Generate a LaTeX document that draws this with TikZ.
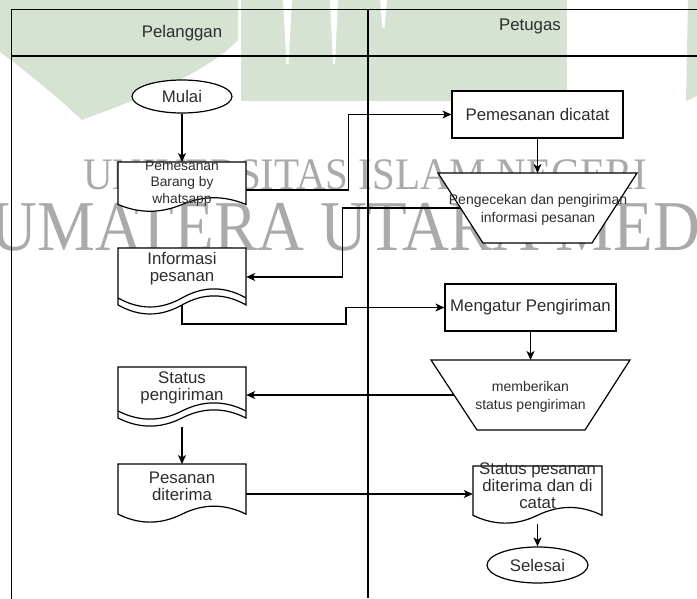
\documentclass[tikz,border=0pt]{standalone}
\usepackage{fontspec}
\setmainfont{Liberation Sans}
\newfontfamily\wmserif{Liberation Serif}
\usetikzlibrary{arrows.meta,calc,shapes.geometric}

\pgfdeclarelayer{watermark}
\pgfdeclarelayer{symbols}
\pgfsetlayers{watermark,symbols,main}

\definecolor{wmgreen}{RGB}{214,227,211}
\definecolor{wmgrey}{RGB}{170,170,170}
\definecolor{ink}{RGB}{45,45,45}

\tikzset{
  outline/.style={draw=black, line width=1.2pt},
  conn/.style={draw=black, line width=1.2pt},
  flow/.style={conn, -{Stealth[length=9pt,width=8pt,inset=2.5pt]}},
  bigtext/.style={text=ink, font=\fontsize{16.8}{17}\selectfont, align=center, inner sep=0pt},
  smalltext/.style={text=ink, font=\fontsize{13.8}{16.7}\selectfont, align=center, inner sep=0pt},
  traptext/.style={text=ink, font=\fontsize{14}{18}\selectfont, align=center, inner sep=0pt},
  term/.style={ellipse, outline, fill=white, inner sep=0pt, bigtext},
  proc/.style={rectangle, outline, fill=white, inner sep=0pt, minimum width=171pt, minimum height=47pt, bigtext},
  docnode/.style={rectangle, inner sep=0pt, minimum width=128pt},
  lane/.style={text=ink, font=\fontsize{16.8}{17}\selectfont, inner sep=0pt},
  wmtext/.style={text=wmgrey, inner sep=0pt, anchor=base west},
}

% document symbol around a text node: node, width, centre-to-top distance, height, band
\newcommand\docsymbol[5]{%
  \begin{scope}[shift={(#1.center)}]
    \pgfmathsetmacro\dhw{#2/2}
    \pgfmathsetmacro\dsx{#2/6}
    \pgfmathsetmacro\dtx{#2/3}
    \pgfmathsetmacro\dtop{-#3}
    \pgfmathsetmacro\dye{-#3+0.85*#4}
    \pgfmathsetmacro\dyu{-#3+0.67*#4}
    \pgfmathsetmacro\dyd{-#3+1.03*#4}
    \draw[outline, fill=white] (-\dhw,\dtop) -- (\dhw,\dtop) -- (\dhw,\dye)
      .. controls (\dtx,\dyu) and (\dsx,\dyu) .. (0,\dye)
      .. controls (-\dsx,\dyd) and (-\dtx,\dyd) .. (-\dhw,\dye) -- cycle;
    \ifdim #5pt>0pt
      \draw[outline, yshift=#5pt] (\dhw,\dye)
        .. controls (\dtx,\dyu) and (\dsx,\dyu) .. (0,\dye)
        .. controls (-\dsx,\dyd) and (-\dtx,\dyd) .. (-\dhw,\dye);
    \fi
    \coordinate (#1-top) at (0,\dtop);
    \coordinate (#1-wave) at (0,\dye);
    \coordinate (#1-base) at (0,{-#3+#4});
  \end{scope}}

% inverted trapezoid around a text node: node, top y, bottom y, top left x, top right x, bottom left x, bottom right x
\newcommand\trapsymbol[7]{%
  \begin{scope}[shift={(#1.center)}]
    \draw[outline, fill=white] (#4,#2) -- (#5,#2) -- (#7,#3) -- (#6,#3) -- cycle;
    \coordinate (#1-top) at (0,#2);
    \coordinate (#1-left) at ({(#4+#6)/2},{(#2+#3)/2});
  \end{scope}}

\begin{document}
\begin{tikzpicture}[x=1pt,y=-1pt]
\useasboundingbox (0,0) rectangle (697,599);

% background watermark
\begin{pgfonlayer}{watermark}
  \begin{scope}
    \clip (0,0) rectangle (697,599);
    \fill[wmgreen] (0,0) -- (238,0) -- (238,40) .. controls (205,75) and (135,100) .. (82,120)
      .. controls (55,95) and (22,68) .. (0,52) -- cycle;
    \fill[wmgreen] (241,0) rectangle (567,101);
    \fill[white] (283,0) -- (292,0) -- (288.5,64) -- (286.5,64) -- cycle;
    \fill[white] (330,0) -- (338,0) -- (335,64) -- (333,64) -- cycle;
    \fill[white] (380,0) -- (387,0) -- (384.5,28) -- (382.5,28) -- cycle;
    \fill[wmgreen] (688,0) -- (697,0) -- (697,96) -- (686,101) -- cycle;
    \node[wmtext, font=\wmserif\fontsize{41}{41}\selectfont] (wmtop) at (83,190)
      {\scalebox{1}[1.1]{UNIVERSITAS ISLAM NEGERI}};
    \node[wmtext, font=\wmserif\fontsize{65}{65}\selectfont] (wmbottom) at (-46,251)
      {\scalebox{1}[1.1]{SUMATERA UTARA MEDAN}};
  \end{scope}
\end{pgfonlayer}

% swimlane frame
\draw[conn] (697,9.5) -- (11.5,9.5) -- (11.5,599);
\draw[conn] (11.5,56) -- (697,56);
\draw[conn] (368,9.5) -- (368,598);
\node[lane] (pelanggan) at (182,33) {Pelanggan};
\node[lane] (petugas) at (530,26) {Petugas};

% flow nodes
\node[term, minimum width=100pt, minimum height=33pt] (mulai) at (182,96.5) {Mulai};
\node[docnode, smalltext] (pesan) at (182,183.5) {Pemesanan\\Barang by\\whatsapp};
\node[proc] (dicatat) at (537.5,114.5) {Pemesanan dicatat};
\node[traptext] (cek) at (538,210) {Pengecekan dan pengiriman\\informasi pesanan};
\node[docnode, bigtext] (info) at (182,268.5) {Informasi\\pesanan};
\node[proc] (atur) at (530.5,307.5) {Mengatur Pengiriman};
\node[traptext] (beri) at (530.5,396.5) {memberikan\\status pengiriman};
\node[docnode, bigtext] (stkirim) at (182,388) {Status\\pengiriman};
\node[docnode, bigtext] (terima) at (182,486) {Pesanan\\diterima};
\node[docnode, bigtext, minimum width=129pt] (stpesan) at (537.5,485.3) {Status pesanan\\diterima dan di\\catat};
\node[term, minimum width=101pt, minimum height=36pt] (selesai) at (537.5,565) {Selesai};

% symbol outlines behind the texts
\begin{pgfonlayer}{symbols}
  \docsymbol{pesan}{128}{21.5}{50}{0}
  \docsymbol{info}{128}{20.5}{67}{7}
  \docsymbol{stkirim}{128}{21}{60}{7}
  \docsymbol{terima}{128}{22}{59}{0}
  \docsymbol{stpesan}{129}{19.3}{58}{0}
  \trapsymbol{cek}{-37}{33}{-100}{99}{-55}{54}
  \trapsymbol{beri}{-36.5}{33.5}{-99.5}{99.5}{-53.5}{54.5}
\end{pgfonlayer}

% connectors
\coordinate (pesan-out) at ([yshift=-6.5pt]pesan.east);
\coordinate (info-in) at ([yshift=-8.5pt]info.east);
\coordinate (terima-out) at ([yshift=-8pt]terima.east);

\draw[flow] (mulai.south) -- (mulai.south |- pesan-top);
\draw[flow] (pesan-out) -- ++(102,0) |- (dicatat.west);
\draw[flow] (dicatat.south) -- (dicatat.south |- cek-top);
\draw[flow] (cek-left) -- ++(-118,0) |- (info-in);
\draw[flow] (info-wave) -- ++(0,19) -- ++(164,0) |- (atur.west);
\draw[flow] (atur.south) -- (atur.south |- beri-top);
\draw[flow] (beri-left) -- (beri-left -| stkirim.east);
\draw[flow] (stkirim-base) -- (stkirim-base |- terima-top);
\draw[flow] (terima-out) -- (terima-out -| stpesan.west);
\draw[flow] (stpesan-base) -- (stpesan-base |- selesai.north);
\end{tikzpicture}
\end{document}
